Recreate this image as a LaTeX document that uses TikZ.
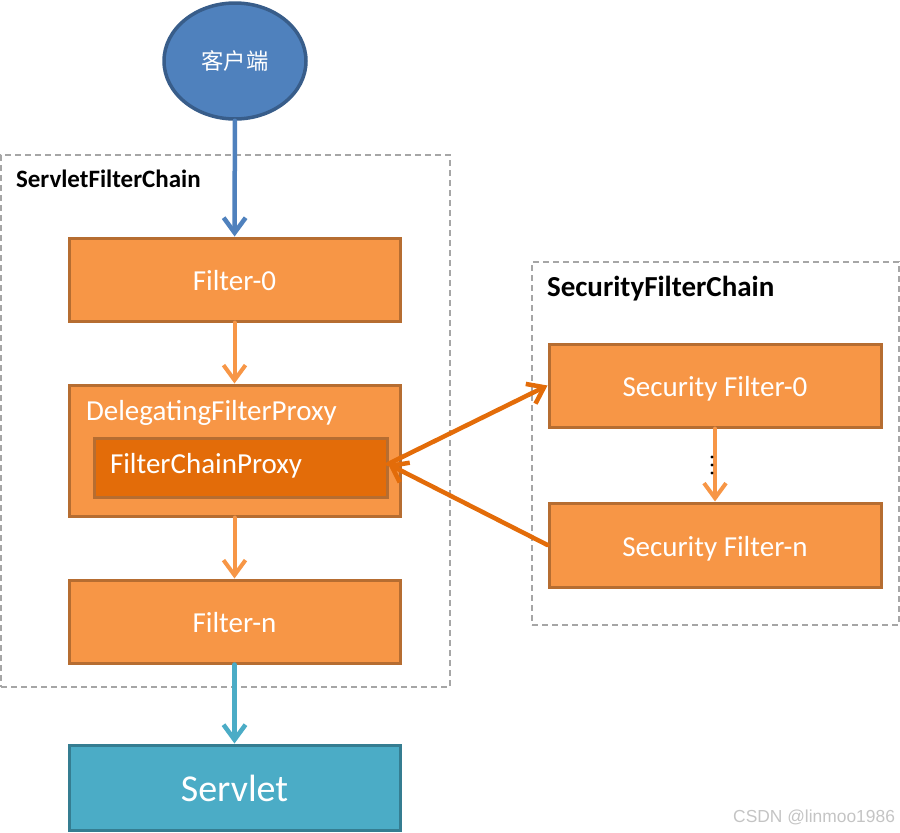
\documentclass[tikz,border=0pt]{standalone}
\usepackage{fontspec}
\setmainfont{Carlito}
\newfontfamily\cjkfont{Noto Sans CJK SC}
\newfontfamily\wmfont{Liberation Sans}
\usetikzlibrary{arrows.meta,shapes.geometric}
\definecolor{ofill}{HTML}{F79646}
\definecolor{oline}{HTML}{B66D31}
\definecolor{dfill}{HTML}{E36C09}
\definecolor{bfill}{HTML}{4F81BD}
\definecolor{bline}{HTML}{385D8A}
\definecolor{tfill}{HTML}{4BACC6}
\definecolor{tline}{HTML}{357D91}
\definecolor{dgray}{HTML}{A6A6A6}
\definecolor{wmgray}{HTML}{C4C4C4}
\tikzset{
  obox/.style={draw=oline, fill=ofill, line width=3pt, minimum width=331pt, minimum height=83pt, inner sep=0pt, text=white, font=\fontsize{29}{32}\selectfont, text height=22pt, text depth=0pt},
  ibox/.style={draw=oline, fill=dfill, line width=3pt, minimum width=293pt, minimum height=59pt, inner sep=0pt},
  chainbox/.style={draw=dgray, line width=1.3pt, dash pattern=on 6pt off 4pt, fill=none},
  lbl/.style={anchor=west, text=white, font=\fontsize{29}{32}\selectfont},
  chainlbl/.style={anchor=west, font=\bfseries\fontsize{25}{28}\selectfont},
  tip/.style={-{Straight Barb[length=15pt,width=22pt]}, line cap=round, line join=round},
  flow/.style={tip, draw=ofill, line width=4pt},
  bigflow/.style={tip, draw=dfill, line width=4.5pt},
}
\begin{document}
\begin{tikzpicture}[x=1pt,y=-1pt]
\useasboundingbox (0,0) rectangle (900,833);
% chain frames
\node[chainbox, minimum width=449pt, minimum height=532pt, inner sep=0pt] (sfc) at (225.5,421) {};
\node[chainbox, minimum width=367pt, minimum height=363pt, inner sep=0pt] (secc) at (715.5,443.5) {};
\node[chainlbl] (sfclbl) at (12.5,178.5) {ServletFilterChain};
\node[chainlbl, font=\bfseries\fontsize{29}{32}\selectfont] (secclbl) at (543.5,289) {SecurityFilterChain};
% client
\node[ellipse, draw=bline, fill=bfill, line width=3.5pt, minimum width=142pt, minimum height=116pt, inner sep=0pt, text=white, font=\cjkfont\fontsize{22.3}{25}\selectfont] (client) at (235,61) {客户端};
% filters
\node[obox] (f0) at (234.5,279.5) {Filter-0};
\node[obox, minimum height=131pt] (dfp) at (234.5,450.5) {};
\node[lbl] (dfplbl) at (82.5,413) {DelegatingFilterProxy};
\node[ibox] (fcp) at (240.5,467.5) {};
\node[lbl] (fcplbl) at (106.5,466) {FilterChainProxy};
\node[obox] (fn) at (234.5,621.5) {Filter-n};
\node[obox, draw=tline, fill=tfill, minimum height=85pt, font=\fontsize{38}{42}\selectfont, text height=27pt] (servlet) at (234.5,787.5) {Servlet};
% security filters
\node[obox, minimum width=332pt] (sf0) at (715,385.5) {Security Filter-0};
\node[obox, minimum width=332pt, minimum height=84pt] (sfn) at (715,545) {Security Filter-n};
% connectors
\draw[tip, draw=bfill, line width=4.5pt] (client) -- (f0);
\draw[flow] (f0) -- (dfp);
\draw[flow] (dfp) -- (fn);
\draw[tip, draw=tfill, line width=4.5pt] (fn) -- (servlet);
\draw[flow] (sf0) -- (sfn);
\coordinate (fcpr) at (388,464);
\draw[bigflow] (fcpr) -- (sf0.west);
\draw[bigflow] (sfn.west) -- (fcpr);
% vertical dots
\fill (712,457) circle (1.6pt) (712,465) circle (1.6pt) (712,473) circle (1.6pt);
% watermark
\node[anchor=east, text=wmgray, font=\wmfont\fontsize{17.4}{20}\selectfont] (wm) at (898.5,817) {CSDN @linmoo1986};
\end{tikzpicture}
\end{document}
